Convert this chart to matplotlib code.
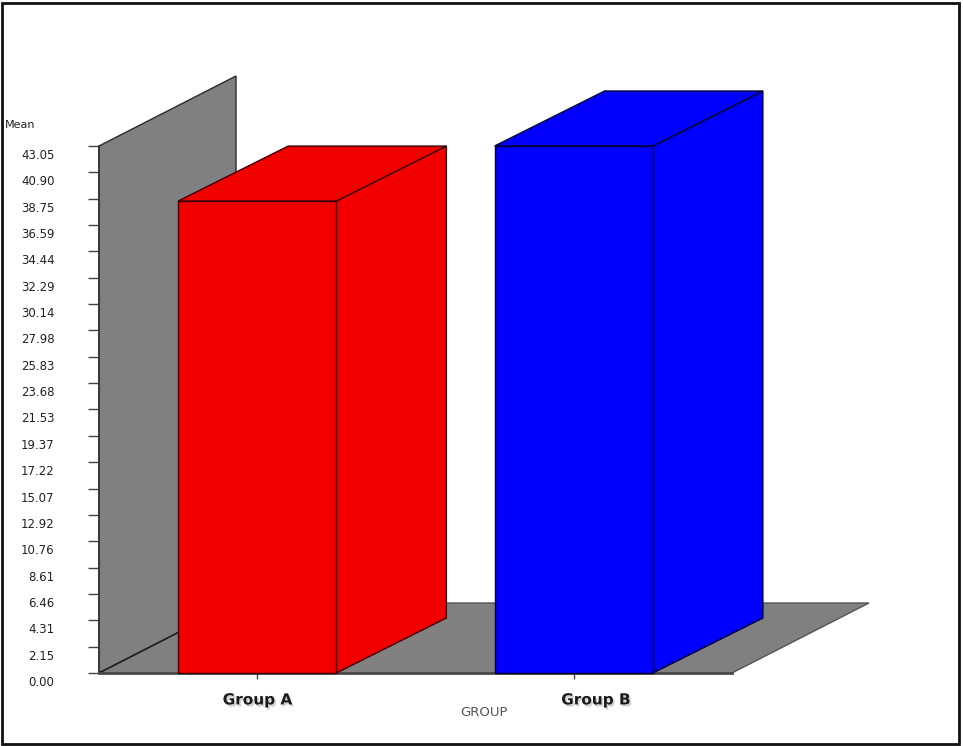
import matplotlib
matplotlib.use("Agg")
import matplotlib.pyplot as plt
import matplotlib.patches as patches
import matplotlib.transforms as mtransforms
import matplotlib.patheffects as pe

groups = ['Group A', 'Group B']
means = [38.55, 43.05]
bar_colors = ['#f20000', '#0000ff']
edge_colors = ['#3a0000', '#000033']
ytick_labels = ['0.00', '2.15', '4.31', '6.46', '8.61', '10.76', '12.92',
                '15.07', '17.22', '19.37', '21.53', '23.68', '25.83', '27.98',
                '30.14', '32.29', '34.44', '36.59', '38.75', '40.90', '43.05']
yticks = [float(s) for s in ytick_labels]

W, H = 963, 746
fig = plt.figure(figsize=(W / 100, H / 100), dpi=100)
ax = fig.add_axes([99 / W, 73 / H, 633 / W, 527 / H])

xmin, xmax = -0.5, 1.5
ymin, ymax = 0, yticks[-1]
ax.set_xlim(xmin, xmax)
ax.set_ylim(ymin, ymax)

# pixel -> data scale, used for the fake 3D depth
px_x = 633 / (xmax - xmin)
px_y = 527 / (ymax - ymin)
wdx, wdy = 137 / px_x, 70 / px_y      # wall / floor depth
bdx, bdy = 110 / px_x, 55 / px_y      # bar depth
bar_w = 0.5

grey = '#808080'
wall = patches.Polygon([(xmin, 0), (xmin, ymax), (xmin + wdx, ymax + wdy),
                        (xmin + wdx, wdy)], closed=True, facecolor=grey,
                       edgecolor='#2a2a2a', lw=1, clip_on=False, zorder=1)
floor = patches.Polygon([(xmin, 0), (xmax, 0), (xmax + wdx, wdy),
                         (xmin + wdx, wdy)], closed=True, facecolor=grey,
                        edgecolor='#555555', lw=1, clip_on=False, zorder=1)
ax.add_patch(wall)
ax.add_patch(floor)
ax.plot([xmin, xmin + wdx], [0, wdy], color='#222222', lw=1.2,
        clip_on=False, zorder=1.5)

for i, (m, c, ec) in enumerate(zip(means, bar_colors, edge_colors)):
    l, r = i - bar_w / 2, i + bar_w / 2
    front = patches.Polygon([(l, 0), (r, 0), (r, m), (l, m)], closed=True,
                            facecolor=c, edgecolor=ec, lw=1, clip_on=False, zorder=3)
    side = patches.Polygon([(r, 0), (r + bdx, bdy), (r + bdx, m + bdy), (r, m)],
                           closed=True, facecolor=c, edgecolor=ec, lw=1,
                           clip_on=False, zorder=3)
    top = patches.Polygon([(l, m), (r, m), (r + bdx, m + bdy), (l + bdx, m + bdy)],
                          closed=True, facecolor=c, edgecolor=ec, lw=1,
                          clip_on=False, zorder=3)
    for p in (side, top, front):
        ax.add_patch(p)

for s in ('top', 'right'):
    ax.spines[s].set_visible(False)
ax.spines['left'].set_color('#333333')
ax.spines['left'].set_linewidth(1.2)
ax.spines['bottom'].set_color('#4a4a4a')
ax.spines['bottom'].set_linewidth(2)
ax.spines['left'].set_zorder(2)
ax.spines['bottom'].set_zorder(2)
ax.patch.set_visible(False)

ax.set_yticks(yticks, ytick_labels)
ax.tick_params(axis='y', length=8, width=1, color='#444444', pad=24,
               labelsize=8.5, labelcolor='#222222')
for lbl in ax.get_yticklabels():
    lbl.set_transform(lbl.get_transform() +
                      mtransforms.ScaledTranslation(0, -0.08, fig.dpi_scale_trans))

ax.set_xticks(range(len(groups)), groups)
ax.tick_params(axis='x', length=4, width=1, color='#444444', pad=10,
               labelsize=11, labelcolor='#1a1a1a')
shadow = [pe.withSimplePatchShadow(offset=(1.2, -1.5), shadow_rgbFace='#999999', alpha=0.45)]
xlabels = ax.get_xticklabels()
for lbl in xlabels:
    lbl.set_fontweight('bold')
    lbl.set_path_effects(shadow)
xlabels[1].set_transform(xlabels[1].get_transform() +
                         mtransforms.ScaledTranslation(0.22, 0, fig.dpi_scale_trans))

ax.set_xlabel('GROUP', fontsize=9.5, color='#555555')
ax.xaxis.set_label_coords((484 - 99) / 633, -(706 - 673) / 527)

fig.text(5 / W, 1 - 125 / H, 'Mean', fontsize=8, color='#222222',
         ha='left', va='center')

fig.patches.append(patches.Rectangle((2 / W, 2 / H), 957 / W, 741 / H,
                                     transform=fig.transFigure, fill=False,
                                     edgecolor='#111111', lw=2))

fig.savefig('out.png', dpi=100)
